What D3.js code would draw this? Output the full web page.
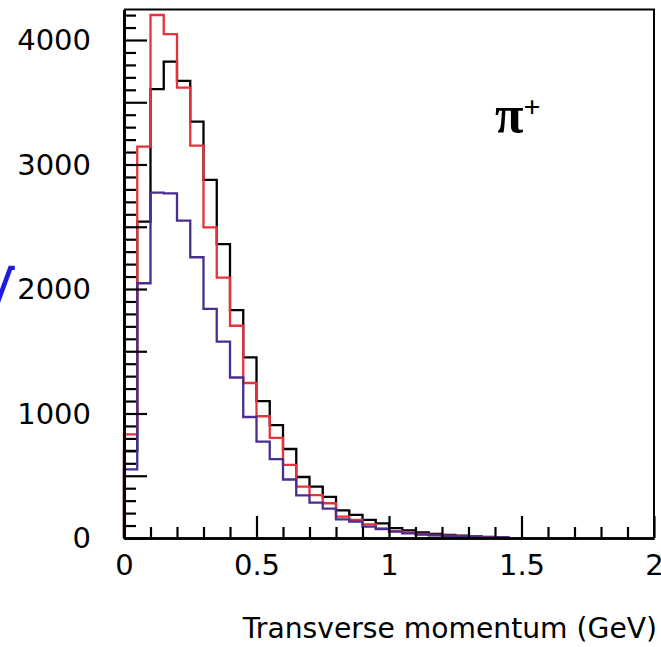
<!DOCTYPE html>
<html>
<head>
<meta charset="utf-8">
<script src="https://cdn.jsdelivr.net/npm/d3@7"></script>
<style>
  html, body { margin: 0; padding: 0; background: #fff; }
  svg { display: block; }
</style>
</head>
<body>
<svg id="chart" width="661" height="647"></svg>
<script>
// Lower edges of the 0.05 GeV transverse-momentum bins
const binLowEdges = [0, 0.05, 0.1, 0.15, 0.2, 0.25, 0.3, 0.35, 0.4, 0.45,
                     0.5, 0.55, 0.6, 0.65, 0.7, 0.75, 0.8, 0.85, 0.9, 0.95,
                     1.0, 1.05, 1.1, 1.15, 1.2, 1.25, 1.3, 1.35, 1.4];
const binWidth = 0.05;

// Entries per bin for the three samples
const countsBlack  = [700, 2541, 3606, 3826, 3671, 3344, 2876, 2361, 1831, 1451,
                      1100, 906, 715, 490, 412, 330, 222, 185, 145, 118,
                      80, 62, 45, 33, 25, 18, 12, 8, 5];
const countsRed    = [833, 3143, 4201, 4048, 3617, 3151, 2495, 2091, 1705, 1245,
                      978, 805, 588, 412, 345, 279, 171, 145, 110, 78,
                      56, 43, 32, 24, 18, 12, 9, 6, 4];
const countsPurple = [552, 2046, 2774, 2768, 2549, 2255, 1840, 1577, 1289, 972,
                      774, 633, 470, 342, 284, 236, 150, 131, 91, 72,
                      51, 37, 28, 22, 16, 11, 8, 5, 4];

// Axis ticks and labels
const xMajorTicks = [0, 0.5, 1, 1.5, 2];
const xMinorTicks = [0.1, 0.2, 0.3, 0.4, 0.6, 0.7, 0.8, 0.9, 1.1, 1.2, 1.3, 1.4,
                     1.6, 1.7, 1.8, 1.9];
const yLabelTicks = [0, 1000, 2000, 3000, 4000];
const yMediumTicks = [500, 1500, 2500, 3500];
const yMinorTicks = [100, 200, 300, 400, 600, 700, 800, 900,
                     1100, 1200, 1300, 1400, 1600, 1700, 1800, 1900,
                     2100, 2200, 2300, 2400, 2600, 2700, 2800, 2900,
                     3100, 3200, 3300, 3400, 3600, 3700, 3800, 3900,
                     4100, 4200];
const xTitle = "Transverse momentum (GeV)";

const series = [
  { name: "black",  counts: countsBlack,  color: "#000000" },
  { name: "red",    counts: countsRed,    color: "#e8313b" },
  { name: "purple", counts: countsPurple, color: "#4a2d90" }
];

const frame = { left: 124, right: 654, top: 9.5, bottom: 538 };
const x = d3.scaleLinear().domain([0, 2]).range([frame.left, frame.right]);
const y = d3.scaleLinear().domain([0, 4245]).range([frame.bottom, frame.top]);

const svg = d3.select("#chart");
svg.append("rect").attr("width", 661).attr("height", 647).attr("fill", "#fff");

// Histogram outlines
const line = d3.line()
  .x(d => x(d.x))
  .y(d => y(d.v))
  .curve(d3.curveStepAfter);

series.forEach(s => {
  const pts = [{ x: binLowEdges[0], v: 0 }];
  s.counts.forEach((v, i) => pts.push({ x: binLowEdges[i], v: v }));
  const last = binLowEdges[binLowEdges.length - 1] + binWidth;
  pts.push({ x: last, v: s.counts[s.counts.length - 1] });
  pts.push({ x: last, v: 0 });
  svg.append("path")
    .datum(pts)
    .attr("d", line)
    .attr("fill", "none")
    .attr("stroke", s.color)
    .attr("stroke-width", 2.3)
    .attr("stroke-linejoin", "miter");
});

// Frame top and right edges
svg.append("path")
  .attr("d", `M${frame.left},${frame.top}H${frame.right}V${frame.bottom}`)
  .attr("fill", "none").attr("stroke", "#000").attr("stroke-width", 2);

const labelFont = "'DejaVu Sans', sans-serif";

// Y axis: minor, medium and labelled ticks pointing into the plot
const gy = svg.append("g").attr("transform", `translate(${frame.left},0)`);
gy.append("g").call(d3.axisLeft(y).tickValues(yMinorTicks).tickSizeInner(-12).tickSizeOuter(0).tickFormat(""));
gy.append("g").call(d3.axisLeft(y).tickValues(yMediumTicks).tickSizeInner(-23).tickSizeOuter(0).tickFormat(""));
gy.append("g").call(d3.axisLeft(y).tickValues(yLabelTicks).tickSizeInner(-23).tickSizeOuter(0)
  .tickPadding(33).tickFormat(d3.format("d")));
gy.selectAll(".domain").attr("stroke", "#000").attr("stroke-width", 2.6);
gy.selectAll(".tick line").attr("stroke", "#000").attr("stroke-width", 2.2);
gy.selectAll(".tick text")
  .attr("font-family", labelFont).attr("font-size", 29).attr("fill", "#000")
  .attr("dy", "0.33em");

// X axis
const gx = svg.append("g").attr("transform", `translate(0,${frame.bottom})`);
gx.append("g").call(d3.axisBottom(x).tickValues(xMinorTicks).tickSizeInner(-11).tickSizeOuter(0).tickFormat(""));
gx.append("g").call(d3.axisBottom(x).tickValues(xMajorTicks).tickSizeInner(-22).tickSizeOuter(0).tickPadding(16).tickFormat(d3.format("")));
gx.selectAll(".domain").attr("stroke", "#000").attr("stroke-width", 2.6);
gx.selectAll(".tick line").attr("stroke", "#000").attr("stroke-width", 2.2);
gx.selectAll(".tick text")
  .attr("font-family", labelFont).attr("font-size", 29).attr("fill", "#000");
svg.selectAll("g").attr("font-family", null).attr("font-size", null);

// Axis title
svg.append("text")
  .attr("x", 657).attr("y", 638)
  .attr("text-anchor", "end")
  .attr("font-family", labelFont).attr("font-size", 28.2)
  .attr("fill", "#000")
  .text(xTitle);

// Particle label
const pl = svg.append("text")
  .attr("x", 495).attr("y", 132)
  .attr("font-family", "'Liberation Serif', serif")
  .attr("font-size", 52).attr("font-weight", "bold").attr("fill", "#000");
pl.append("tspan").text("π");
pl.append("tspan").attr("dy", -15).attr("font-size", 30).text("+");

// Y axis title, mostly outside the page
svg.append("text")
  .attr("x", -24).attr("y", 314)
  .attr("font-family", labelFont).attr("font-size", 58)
  .attr("font-weight", "bold")
  .attr("fill", "#1c1ce0")
  .text("√");
</script>
</body>
</html>
